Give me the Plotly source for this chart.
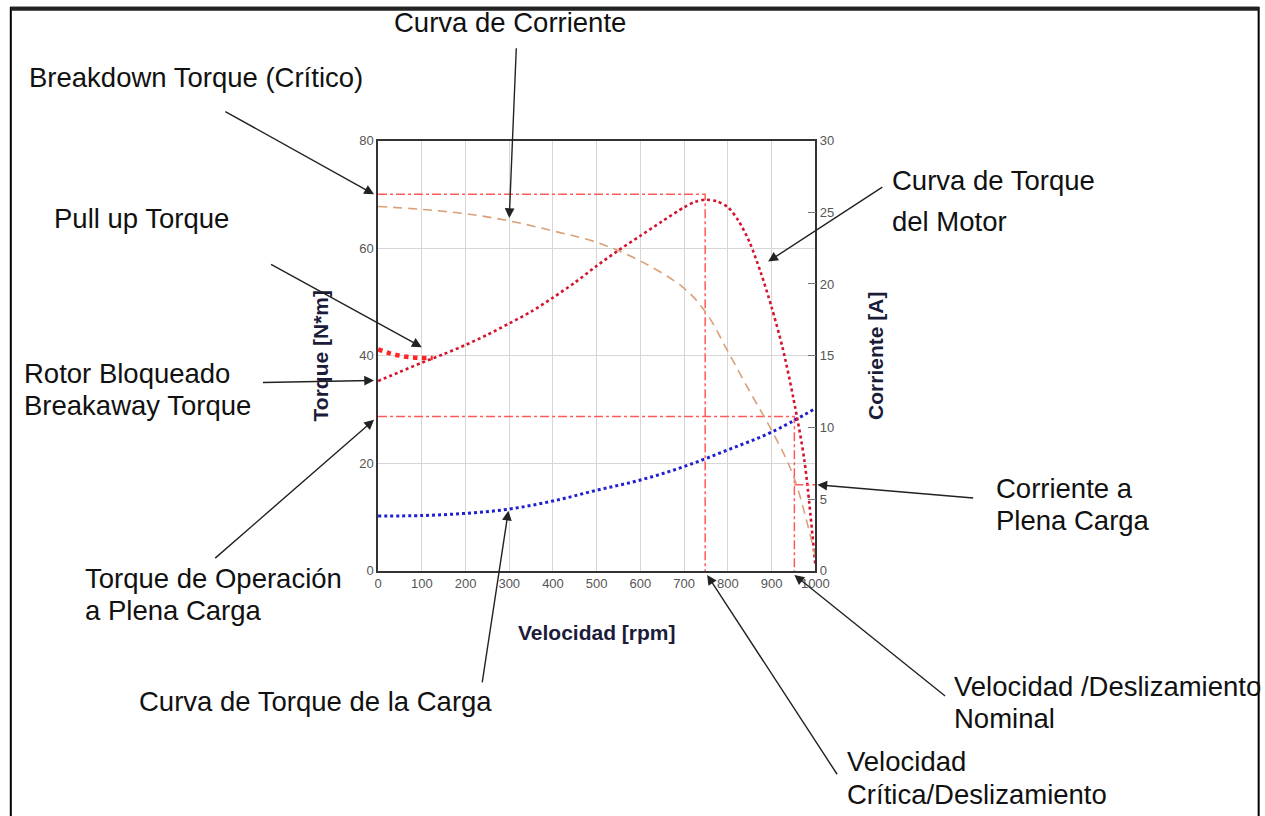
import plotly.graph_objects as go

### Curve data ###
rpmMotor    = [0, 50, 100, 150, 200, 250, 300, 350, 400, 450, 500, 550, 600, 650, 700, 725, 750,
               775, 800, 825, 850, 875, 900, 925, 950, 975, 1000]
torqueMotor = [35.3, 37.0, 38.7, 40.3, 42.0, 43.9, 46.0, 48.2, 50.8, 53.6, 56.7, 59.6, 62.3, 65.0, 67.6, 68.6, 69.0,
               68.7, 67.6, 65.0, 61.0, 55.5, 49.0, 41.5, 32.0, 20.5, 1.0]

rpmPullUp    = [0, 25, 50, 75, 100, 125]
torquePullUp = [41.2, 40.5, 40.0, 39.7, 39.6, 39.6]

rpmLoad    = [0, 100, 200, 300, 400, 500, 600, 700, 800, 900, 1000]
torqueLoad = [10.2, 10.3, 10.7, 11.5, 13.0, 15.0, 16.9, 19.4, 22.5, 25.8, 30.2]

rpmCurrent = [0, 100, 200, 300, 400, 500, 600, 700, 750, 800, 850, 900, 950, 1000]
current    = [25.4, 25.2, 24.9, 24.4, 23.7, 22.9, 21.6, 19.7, 18.0, 15.3, 12.5, 9.8, 6.6, 1.0]

breakdownTorque = 70.0
criticalSpeed   = 748
nominalTorque   = 28.7
nominalSpeed    = 952
fullLoadCurrent = 6.0

xTicks  = [0, 100, 200, 300, 400, 500, 600, 700, 800, 900, 1000]
yTicks  = [0, 20, 40, 60, 80]
y2Ticks = [0, 5, 10, 15, 20, 25, 30]

# page -> photo mapping measured from earlier runs (photo = A*page + B)
AX, BX = 0.9853, 4.2
AY, BY = 0.981, 6.6
W, H = 1284, 830
def px(r): return (r - BX) / AX / W          # reference pixel -> paper x
def py(r): return 1 - (r - BY) / AY / H      # reference pixel -> paper y

refColor = '#ff5a5a'

fig = go.Figure()

# reference (dash-dot) lines
fig.add_trace(go.Scatter(x=[0, criticalSpeed, criticalSpeed], y=[breakdownTorque, breakdownTorque, 0],
                         mode='lines', line=dict(color=refColor, width=1.5, dash='dashdot')))
fig.add_trace(go.Scatter(x=[0, nominalSpeed, nominalSpeed], y=[nominalTorque, nominalTorque, 0],
                         mode='lines', line=dict(color=refColor, width=1.5, dash='dashdot')))
fig.add_trace(go.Scatter(x=[nominalSpeed, 1000], y=[fullLoadCurrent, fullLoadCurrent], yaxis='y2',
                         mode='lines', line=dict(color=refColor, width=1.5, dash='dashdot')))

# current curve
fig.add_trace(go.Scatter(x=rpmCurrent, y=current, yaxis='y2', mode='lines', line_shape='spline',
                         line=dict(color='#d9a07a', width=1.6, dash='9px,6px')))
# load torque
fig.add_trace(go.Scatter(x=rpmLoad, y=torqueLoad, mode='lines', line_shape='spline',
                         line=dict(color='#2020d0', width=3, dash='dot')))
# motor torque
fig.add_trace(go.Scatter(x=rpmMotor, y=torqueMotor, mode='lines', line_shape='spline',
                         line=dict(color='#d4142e', width=2.6, dash='dot', smoothing=0.8)))
# pull up torque
fig.add_trace(go.Scatter(x=rpmPullUp, y=torquePullUp, mode='lines', line_shape='spline',
                         line=dict(color='#ff2424', width=4.5, dash='dot')))

### Labels ###
txtFont = dict(family='Liberation Sans, Arial', size=27.5, color='#111')
labels = [  # text, left px, center px (reference picture)
    ('Curva de Corriente',          395,  22),
    ('Breakdown Torque (Crítico)',   30,  77),
    ('Pull up Torque',               55, 218),
    ('Rotor Bloqueado',              25, 373),
    ('Breakaway Torque',             25, 405),
    ('Torque de Operación',          86, 578),
    ('a Plena Carga',                86, 610),
    ('Curva de Torque de la Carga', 140, 700),
    ('Curva de Torque',             893, 180),
    ('del Motor',                   893, 221),
    ('Corriente a',                 997, 488),
    ('Plena Carga',                 997, 520),
    ('Velocidad /Deslizamiento',    955, 685),
    ('Nominal',                     955, 717),
    ('Velocidad',                   848, 760),
    ('Crítica/Deslizamiento',       848, 793),
]
for t, lx, ly in labels:
    fig.add_annotation(text=t, xref='paper', yref='paper', x=px(lx - 3), y=py(ly),
                       xanchor='left', yanchor='middle', showarrow=False, font=txtFont)

# arrows: head in data coords, tail offset in pixels
arrows = [  # x, y, yref, ax, ay, xshift
    (300, 24.6, 'y2',    7, -168,  0),
    (0, breakdownTorque, 'y', -148, -82, -4),
    (100, 41.6, 'y',  -150,  -82,  0),
    (0, 35.4, 'y',    -111,    2, -4),
    (0, 28.1, 'y',    -158,  137, -4),
    (298, 11.2, 'y',   -26,  170,  0),
    (892, 57.5, 'y',   114,  -74,  0),
    (1000, fullLoadCurrent, 'y2', 155, 13, 2),
    (nominalSpeed, 0, 'y', 150, 120,  0),
    (criticalSpeed, 0, 'y', 129, 197, 2),
]
for x, y, yr, ax, ay, xs in arrows:
    fig.add_annotation(text='', x=x, y=y, xref='x', yref=yr, ax=ax / AX, ay=ay / AY, xshift=xs,
                       yshift=-4 if (y == 0 and yr == 'y') else 0,
                       showarrow=True, arrowhead=2, arrowsize=1.4, arrowwidth=1.4,
                       arrowcolor='#222', standoff=0)

tickFont  = dict(family='Liberation Sans Narrow, Liberation Sans', size=13, color='#555')
titleFont = dict(family='Liberation Sans, Arial', size=21, color='#1b1b3a')

fig.update_layout(
    width=W, height=H, margin=dict(l=0, r=0, t=0, b=0),
    paper_bgcolor='white', plot_bgcolor='white', showlegend=False,
    xaxis=dict(domain=[px(378), px(815)], range=[0, 1000], tickvals=xTicks, tickfont=tickFont,
               showgrid=True, gridcolor='#d6d6d6', gridwidth=1, zeroline=False,
               showline=True, linecolor='#333', linewidth=1.5, mirror=True, ticks='',
               title=dict(text='<b>Velocidad [rpm]</b>', font=titleFont, standoff=35)),
    yaxis=dict(domain=[py(570), py(140)], range=[0, 80], tickvals=yTicks, tickfont=tickFont,
               showgrid=True, gridcolor='#d6d6d6', gridwidth=1, zeroline=False,
               showline=True, linecolor='#333', linewidth=1.5, mirror=True, ticks='',
               title=dict(text='<b>Torque [N*m]</b>', font=titleFont, standoff=25)),
    yaxis2=dict(overlaying='y', side='right', range=[0, 30], tickvals=y2Ticks, tickfont=tickFont,
                showgrid=False, zeroline=False, showline=True, linecolor='#333', linewidth=1.5,
                ticks='inside', ticklen=8, tickcolor='#777',
                title=dict(text='<b>Corriente [A]</b>', font=titleFont, standoff=35)),
    shapes=[
        dict(type='rect', xref='paper', yref='paper', x0=px(11), x1=px(1258), y0=-0.05, y1=0.999,
             line=dict(color='black', width=2)),
        dict(type='line', xref='paper', yref='paper', x0=px(11), x1=px(1258), y0=0.998, y1=0.998,
             line=dict(color='#222', width=4)),
    ],
)

# drop the default body margin so the figure starts at the window's corner
fig.write_html("out.html", config={'displayModeBar': False},
               post_script="document.body.style.margin='0';document.body.style.overflow='hidden';")
